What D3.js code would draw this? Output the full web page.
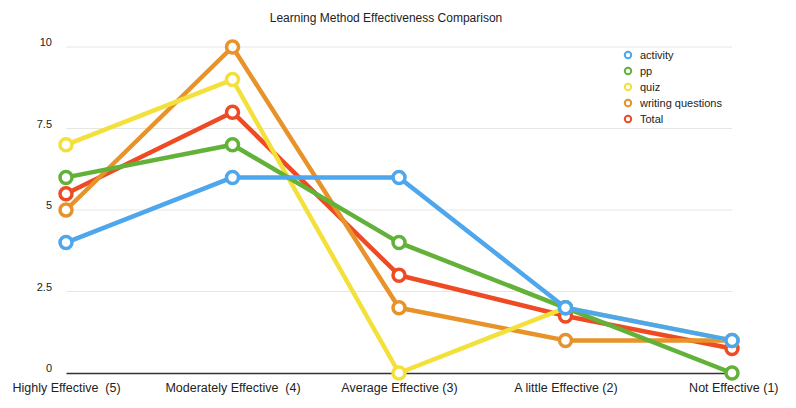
<!DOCTYPE html>
<html>
<head>
<meta charset="utf-8">
<script src="https://cdn.jsdelivr.net/npm/d3@7"></script>
<style>
  body { margin: 0; background: #fff; }
  text { font-family: "Liberation Sans", Arial, sans-serif; fill: #222; white-space: pre; }
</style>
</head>
<body>
<div id="chart"></div>
<script>
var categories = ["Highly Effective  (5)", "Moderately Effective  (4)", "Average Effective (3)", "A little Effective (2)", "Not Effective (1)"];
var seriesNames = ["activity", "pp", "quiz", "writing questions", "Total"];
var activity = [4, 6, 6, 2, 1];
var pp = [6, 7, 4, 2, 0];
var quiz = [7, 9, 0, 2, 1];
var writing = [5, 10, 2, 1, 1];
var total = [5.5, 8, 3, 1.75, 0.75];
var yTicks = [0, 2.5, 5, 7.5, 10];
var colours = ["#4ea6ec", "#62b23a", "#f4e03a", "#e8922a", "#ee4b24"];

var width = 796;
var height = 408;

var margin = {
    top: 47,
    bottom: 35,
    left: 66,
    right: 64
};

var series = [activity, pp, quiz, writing, total].map(function(v, i) {
    return { name: seriesNames[i], values: v, colour: colours[i] };
});

var svg = d3.select("#chart")
    .append("svg")
    .attr("width", width)
    .attr("height", height);

var g = svg.append("g")
    .attr("transform", "translate(" + margin.left + "," + margin.top + ")");

var w = width - margin.left - margin.right;
var h = height - margin.top - margin.bottom;

var xScale = d3.scalePoint()
    .domain(categories)
    .range([0, w]);

var yScale = d3.scaleLinear()
    .domain([0, 10])
    .range([h, 0]);

// gridlines
g.selectAll(".grid")
    .data(yTicks.filter(function(d) { return d > 0; }))
    .enter()
    .append("line")
    .attr("x1", 0)
    .attr("x2", w)
    .attr("y1", function(d) { return yScale(d); })
    .attr("y2", function(d) { return yScale(d); })
    .attr("stroke", "#e6e6e6")
    .attr("stroke-width", 1);

// y axis labels
var yAxis = d3.axisLeft(yScale)
    .tickValues(yTicks)
    .tickSize(0)
    .tickPadding(14)
    .tickFormat(function(d) { return d; });

g.append("g")
    .call(yAxis)
    .call(function(a) { a.select(".domain").remove(); })
    .selectAll("text")
    .attr("font-size", "11px")
    .attr("dy", "-0.1em");

// x axis
var xAxis = d3.axisBottom(xScale).tickSize(0).tickPadding(10);
g.append("g")
    .attr("transform", "translate(0," + h + ")")
    .call(xAxis)
    .call(function(a) {
        a.select(".domain").attr("stroke", "#333").attr("stroke-width", 1.5);
    })
    .selectAll("text")
    .attr("font-size", "12.5px")
    .attr("text-anchor", function(d, i) {
        return i === 0 ? "start" : (i === categories.length - 1 ? "end" : "middle");
    })
    .attr("dx", function(d, i) {
        return i === 0 ? "-54px" : (i === categories.length - 1 ? "46px" : "0");
    });

var line = d3.line()
    .x(function(d, i) { return xScale(categories[i]); })
    .y(function(d) { return yScale(d); });

// draw Total first so activity ends up on top
var drawOrder = series.slice().reverse();

var groups = g.selectAll(".series")
    .data(drawOrder)
    .enter()
    .append("g")
    .attr("class", "series");

groups.append("path")
    .attr("d", function(d) { return line(d.values); })
    .attr("fill", "none")
    .attr("stroke", function(d) { return d.colour; })
    .attr("stroke-width", 4.5)
    .attr("stroke-linejoin", "round");

groups.selectAll("circle")
    .data(function(d) {
        return d.values.map(function(v, i) { return { v: v, i: i, colour: d.colour }; });
    })
    .enter()
    .append("circle")
    .attr("cx", function(d) { return xScale(categories[d.i]); })
    .attr("cy", function(d) { return yScale(d.v); })
    .attr("r", 6)
    .attr("fill", "#fff")
    .attr("stroke", function(d) { return d.colour; })
    .attr("stroke-width", 3.5);

// title
svg.append("text")
    .attr("x", 386)
    .attr("y", 22)
    .attr("text-anchor", "middle")
    .attr("font-size", "12px")
    .text("Learning Method Effectiveness Comparison");

// legend
var legend = svg.append("g")
    .attr("transform", "translate(628,55)");

var items = legend.selectAll(".item")
    .data(series)
    .enter()
    .append("g")
    .attr("transform", function(d, i) { return "translate(0," + (i * 16) + ")"; });

items.append("circle")
    .attr("r", 3.2)
    .attr("fill", "#fff")
    .attr("stroke", function(d) { return d.colour; })
    .attr("stroke-width", 2);

items.append("text")
    .attr("x", 12)
    .attr("dy", "0.35em")
    .attr("font-size", "11px")
    .text(function(d) { return d.name; });
</script>
</body>
</html>
